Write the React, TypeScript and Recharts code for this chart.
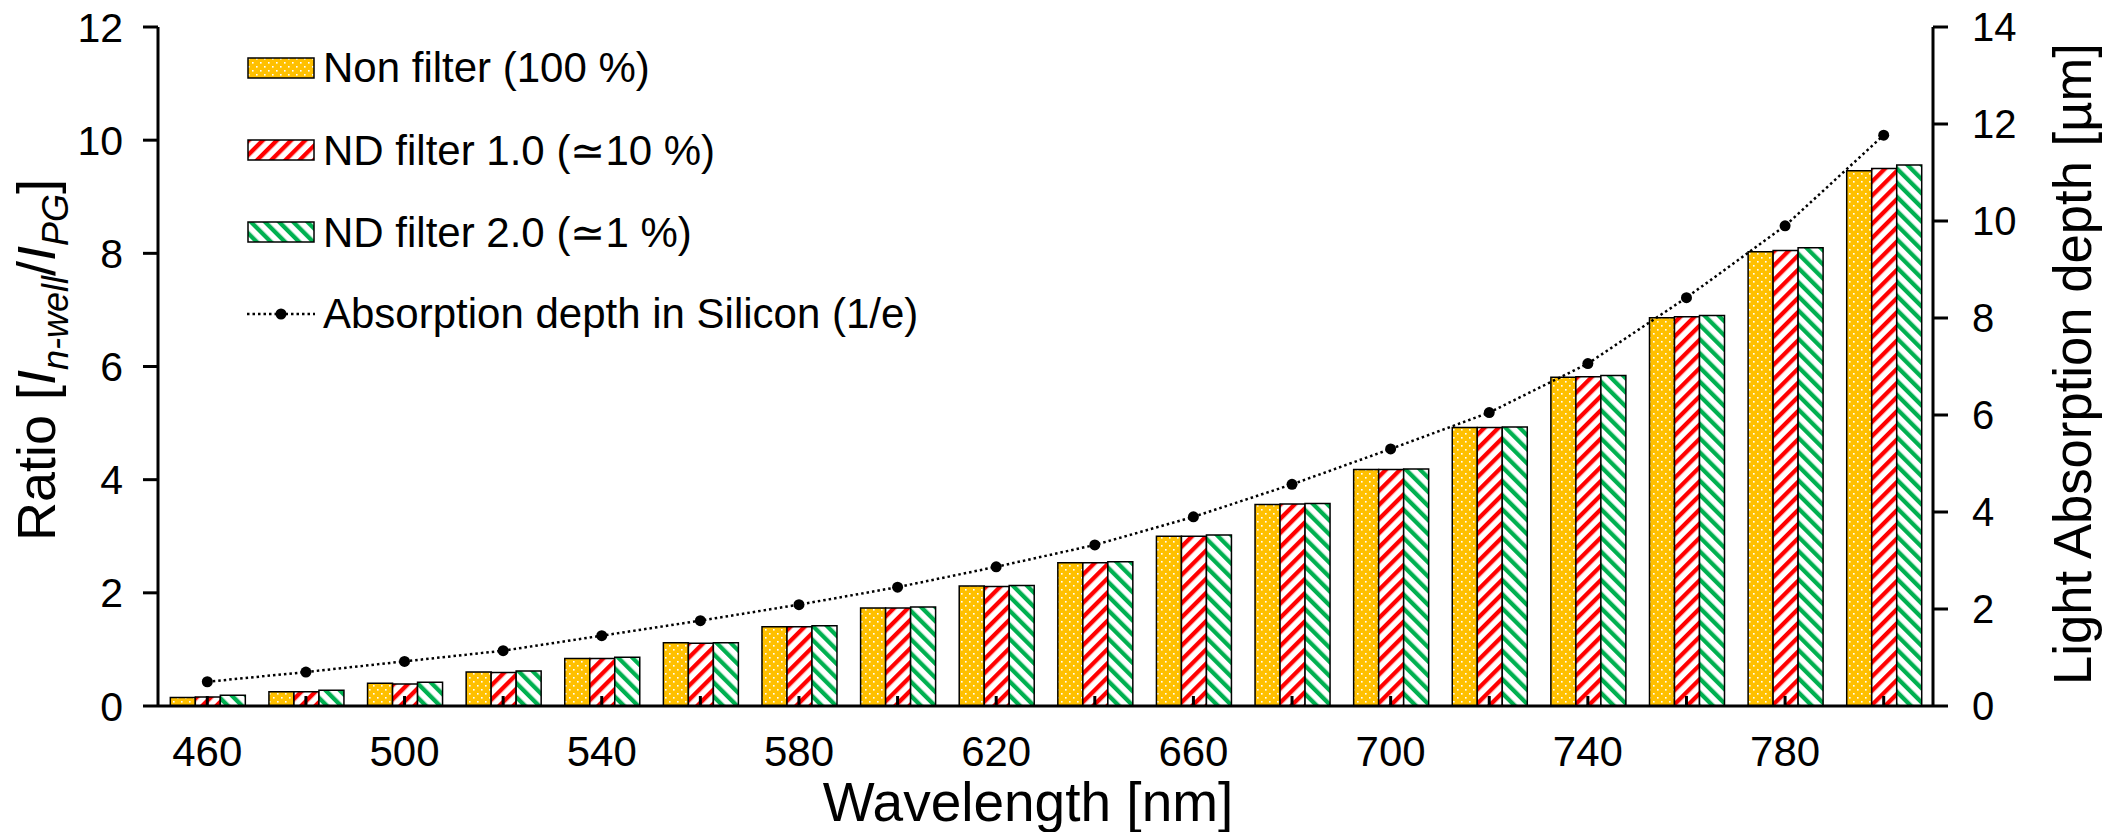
import { ComposedChart, Bar, Line, XAxis, YAxis } from 'recharts';

const WAVELENGTHS = [460, 480, 500, 520, 540, 560, 580, 600, 620, 640, 660, 680, 700, 720, 740, 760, 780, 800];
const NON_FILTER = [0.15, 0.25, 0.40, 0.60, 0.84, 1.12, 1.40, 1.73, 2.12, 2.53, 3.00, 3.56, 4.18, 4.92, 5.81, 6.86, 8.03, 9.46];
const ND_1 = [0.16, 0.25, 0.39, 0.59, 0.84, 1.11, 1.40, 1.73, 2.11, 2.53, 3.00, 3.57, 4.18, 4.92, 5.82, 6.88, 8.05, 9.50];
const ND_2 = [0.19, 0.28, 0.42, 0.62, 0.86, 1.12, 1.42, 1.75, 2.13, 2.55, 3.02, 3.58, 4.19, 4.93, 5.84, 6.90, 8.10, 9.56];
const DEPTH = [0.50, 0.70, 0.92, 1.14, 1.45, 1.76, 2.09, 2.45, 2.87, 3.32, 3.90, 4.57, 5.30, 6.05, 7.06, 8.42, 9.90, 11.77];

const LEFT_TICKS = [0, 2, 4, 6, 8, 10, 12];
const RIGHT_TICKS = [0, 2, 4, 6, 8, 10, 12, 14];

const LEGEND = [
  { key: 'non', label: 'Non filter (100 %)', fill: 'url(#pat-dots)' },
  { key: 'nd1', label: 'ND filter 1.0 (\u224310 %)', fill: 'url(#pat-red)' },
  { key: 'nd2', label: 'ND filter 2.0 (\u22431 %)', fill: 'url(#pat-green)' },
];

const FONT = '"Liberation Sans", Arial, sans-serif';

const data = WAVELENGTHS.map((w, i) => ({
  w,
  non: NON_FILTER[i],
  nd1: ND_1[i],
  nd2: ND_2[i],
  depth: DEPTH[i],
}));

function Patterns() {
  return (
    <defs>
      <pattern id="pat-dots" patternUnits="userSpaceOnUse" width={8} height={8}>
        <rect width={8} height={8} fill="#FFC000" />
        <rect x={1} y={1} width={1.6} height={1.6} fill="#fff" />
        <rect x={5} y={5} width={1.6} height={1.6} fill="#fff" />
      </pattern>
      <pattern id="pat-red" patternUnits="userSpaceOnUse" width={10} height={10} patternTransform="rotate(45)">
        <rect width={10} height={10} fill="#fff" />
        <rect width={4.3} height={10} fill="#FF0000" />
      </pattern>
      <pattern id="pat-green" patternUnits="userSpaceOnUse" width={10} height={10} patternTransform="rotate(-45)">
        <rect width={10} height={10} fill="#fff" />
        <rect width={4.3} height={10} fill="#00B050" />
      </pattern>
    </defs>
  );
}

// x ticks: short marks pointing up into the plot, labels on every other category
function XTick(props: any) {
  const { x, y, index, payload } = props;
  return (
    <g>
      <line x1={x} x2={x} y1={y} y2={y - 10} stroke="#000" strokeWidth={3} />
      {index % 2 === 0 && (
        <text x={x} y={y + 60} textAnchor="middle" fontSize={42} fill="#000" fontFamily={FONT}>
          {payload.value}
        </text>
      )}
    </g>
  );
}

function Legend() {
  return (
    <div style={{ position: 'absolute', left: 247, top: 27, fontFamily: FONT, fontSize: 42, color: '#000' }}>
      {LEGEND.map((it) => (
        <div key={it.key} style={{ display: 'flex', alignItems: 'center', height: 82 }}>
          <svg width={68} height={22} style={{ marginRight: 8 }}>
            <rect x={1} y={1} width={66} height={20} fill={it.fill} stroke="#000" strokeWidth={1.5} />
          </svg>
          <span style={{ whiteSpace: 'nowrap' }}>{it.label}</span>
        </div>
      ))}
      <div style={{ display: 'flex', alignItems: 'center', height: 82 }}>
        <svg width={68} height={22} style={{ marginRight: 8 }}>
          <line x1={0} x2={68} y1={11} y2={11} stroke="#000" strokeWidth={2.5} strokeDasharray="2.5 3" />
          <circle cx={34} cy={11} r={5.5} fill="#000" />
        </svg>
        <span style={{ whiteSpace: 'nowrap' }}>Absorption depth in Silicon (1/e)</span>
      </div>
    </div>
  );
}

export default function App() {
  const axisStroke = { stroke: '#000', strokeWidth: 3 };
  return (
    <div style={{ position: 'absolute', left: 0, top: 0, width: 2121, height: 832, background: '#fff' }}>
      <svg width={0} height={0} style={{ position: 'absolute' }}>
        <Patterns />
      </svg>
      <ComposedChart
        width={2121}
        height={832}
        data={data}
        margin={{ top: 27, right: 0, bottom: 0, left: 0 }}
        barCategoryGap="12.5%"
        barGap={0}
      >
        <YAxis
          yAxisId="left"
          orientation="left"
          width={158}
          domain={[0, 12]}
          ticks={LEFT_TICKS}
          interval={0}
          axisLine={axisStroke}
          tickLine={axisStroke}
          tickSize={15}
          tickMargin={20}
          tick={{ fontSize: 41, fill: '#000', fontFamily: FONT }}
        />
        <YAxis
          yAxisId="right"
          orientation="right"
          width={188}
          domain={[0, 14]}
          ticks={RIGHT_TICKS}
          interval={0}
          axisLine={axisStroke}
          tickLine={axisStroke}
          tickSize={15}
          tickMargin={24}
          tick={{ fontSize: 40, fill: '#000', fontFamily: FONT }}
        />
        <Bar yAxisId="left" dataKey="non" fill="url(#pat-dots)" stroke="#000" strokeWidth={1.5} isAnimationActive={false} />
        <Bar yAxisId="left" dataKey="nd1" fill="url(#pat-red)" stroke="#000" strokeWidth={1.5} isAnimationActive={false} />
        <Bar yAxisId="left" dataKey="nd2" fill="url(#pat-green)" stroke="#000" strokeWidth={1.5} isAnimationActive={false} />
        <Line
          yAxisId="right"
          dataKey="depth"
          type="linear"
          stroke="#000"
          strokeWidth={2.5}
          strokeDasharray="2.5 3"
          dot={{ r: 5.5, fill: '#000', stroke: '#000', strokeWidth: 0 }}
          isAnimationActive={false}
        />
        <XAxis
          dataKey="w"
          height={126}
          interval={0}
          axisLine={axisStroke}
          tickLine={false}
          tickSize={0}
          tickMargin={0}
          tick={XTick}
        />
        <text transform="translate(55,360) rotate(-90)" textAnchor="middle" fontSize={54} fill="#000" fontFamily={FONT}>
          Ratio [<tspan fontStyle="italic">I</tspan>
          <tspan fontStyle="italic" fontSize={36} dy={13}>n-well</tspan>
          <tspan dy={-13}>/</tspan>
          <tspan fontStyle="italic">I</tspan>
          <tspan fontStyle="italic" fontSize={36} dy={13}>PG</tspan>
          <tspan dy={-13}>]</tspan>
        </text>
        <text
          transform="translate(2091,364) rotate(-90)"
          textAnchor="middle"
          fontSize={54}
          fill="#000"
          fontFamily={FONT}
          textLength={642}
          lengthAdjust="spacingAndGlyphs"
        >
          Light Absorption depth [µm]
        </text>
        <text x={1028} y={821} textAnchor="middle" fontSize={55} fill="#000" fontFamily={FONT}>
          Wavelength [nm]
        </text>
      </ComposedChart>
      <Legend />
    </div>
  );
}
